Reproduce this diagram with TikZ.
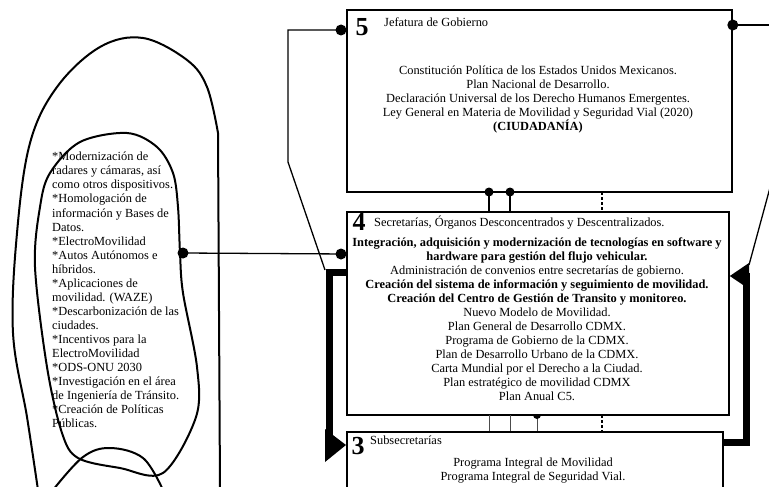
\documentclass[tikz,border=0pt]{standalone}
\usepackage{fontspec}
\setmainfont{Liberation Serif}
\usetikzlibrary{calc}
\tikzset{
  box/.style={draw, line width=1.8pt, inner sep=0pt, anchor=north west},
  txt/.style={font=\fontsize{12.4}{14}\selectfont, inner sep=0pt, align=center},
  lbl/.style={font=\fontsize{12.4}{13}\selectfont, inner sep=0pt, anchor=west},
  num/.style={font=\bfseries\fontsize{26}{26}\selectfont, inner sep=0pt},
  thin/.style={line width=1.3pt},
  heavy/.style={line width=7pt},
  loop/.style={line width=2pt},
  dotc/.style={fill=black, circle, inner sep=0pt, minimum size=#1},
}
\begin{document}
\begin{tikzpicture}[x=1pt, y=-1pt]
\useasboundingbox (0,0) rectangle (769,487);
\clip (0,0) rectangle (769,487);

% boxes
\node[box, minimum width=385pt, minimum height=182pt] (b5) at (346,9) {};
\node[box, minimum width=382pt, minimum height=203pt] (b4) at (346,211) {};
\node[box, minimum width=376pt, minimum height=120pt] (b3) at (346,431) {};

% numbers and labels
\node[num] (n5) at (362,27) {5};
\node[num] (n4) at (359,222) {4};
\node[num] (n3) at (358,446) {3};
\node[lbl] (l5) at (384,22) {Jefatura de Gobierno};
\node[lbl] (l4) at (374,223) {Secretarías, Órganos Desconcentrados y Descentralizados.};
\node[lbl] (l3) at (370,440) {Subsecretarías};

% box 5 text
\node[txt] (t5) at (538,100) {Constitución Política de los Estados Unidos Mexicanos.\\
Plan Nacional de Desarrollo.\\
Declaración Universal de los Derecho Humanos Emergentes.\\
Ley General en Materia de Movilidad y Seguridad Vial (2020)\\
\textbf{(CIUDADANÍA)}};

% box 4 text
\node[txt] (t4) at (537,319) {\textbf{Integración, adquisición y modernización de tecnologías en software y}\\
\textbf{hardware para gestión del flujo vehicular.}\\
Administración de convenios entre secretarías de gobierno.\\
\textbf{Creación del sistema de información y seguimiento de movilidad.}\\
\textbf{Creación del Centro de Gestión de Transito y monitoreo.}\\
Nuevo Modelo de Movilidad.\\
Plan General de Desarrollo CDMX.\\
Programa de Gobierno de la CDMX.\\
Plan de Desarrollo Urbano de la CDMX.\\
Carta Mundial por el Derecho a la Ciudad.\\
Plan estratégico de movilidad CDMX\\
Plan Anual C5.};

% box 3 text
\node[txt] (t3) at (533,471) {Programa Integral de Movilidad\\
Programa Integral de Seguridad Vial.};

% left loops
\draw[loop] plot[smooth, tension=0.6] coordinates {(38,490) (27,417) (13,333) (17,233) (30,143) (57,87) (100,47) (143,38) (187,60) (207,87) (218,133)} -- (220,490);
\draw[loop] plot[smooth cycle, tension=0.55] coordinates {(127,133) (157,147) (173,173) (178,207) (180,253) (183,293) (197,367) (196,417) (163,473) (120,468) (78,458) (62,433) (47,367) (35,267) (40,207) (50,173) (80,142)};
\draw[loop] plot[smooth, tension=0.6] coordinates {(53,490) (83,457) (110,448) (143,458) (163,490)};

% list text
\node[font=\fontsize{12.4}{14.05}\selectfont, inner sep=0pt, align=left, anchor=north west] (lst) at (52,152) {*Modernización de\\
radares y cámaras, así\\
como otros dispositivos.\\
*Homologación de\\
información y Bases de\\
Datos.\\
*ElectroMovilidad\\
*Autos Autónomos e\\
híbridos.\\
*Aplicaciones de\\
movilidad. (WAZE)\\
*Descarbonización de las\\
ciudades.\\
*Incentivos para la\\
ElectroMovilidad\\
*ODS-ONU 2030\\
*Investigación en el área\\
de Ingeniería de Tránsito.\\
*Creación de Políticas\\
Públicas.};

% connector: list to box 4
\coordinate (ld) at (183,253);
\coordinate (b4l) at (b4.west |- 0,254);
\draw[thin] (ld) -- (b4l);
\node[dotc=11pt] at (ld) {};
\node[dotc=11pt] at ($(b4l)+(-5,0)$) {};

% connector: box 5 left to thick line
\coordinate (b5l) at (b5.west |- 0,30);
\coordinate (k1) at (288,30);
\coordinate (k2) at (288,162);
\coordinate (k3) at (325,270);
\draw[thin] (b5l) -- (k1) -- (k2) -- (k3);
\node[dotc=11pt] at ($(b5l)+(-5,0)$) {};

% thick line left: box 4 to box 3
\coordinate (b4k) at (b4.west |- 0,272);
\coordinate (b3k) at (b3.west |- 0,445);
\draw[heavy] (b4k) -- (329,272) -- (329,445) -- ($(b3k)+(-10,0)$);
\fill (325,429) -- (325,462) -- (b3k) -- cycle;

% connector: box 5 right
\coordinate (b5r) at (b5.east |- 0,25);
\coordinate (er) at (775,25);
\draw[thin] (b5r) -- (er);
\node[dotc=11pt] at (b5r) {};

% thick line right: box 3 to box 4
\coordinate (b3r) at (b3.east |- 0,442);
\coordinate (b4r) at (b4.east |- 0,276);
\draw[heavy] (b3r) -- (746,442) -- (746,276) -- ($(b4r)+(10,0)$);
\fill (749,263) -- (749,289) -- (b4r) -- cycle;
\coordinate (er2) at (771,184);
\draw[thin] (er2) -- (749,265);

% vertical links between boxes 5 and 4
\foreach \x/\n in {489/a,510/b}{
  \coordinate (u\n) at (\x,192);
  \draw[thin] (u\n) -- (\x,211);
  \node[dotc=9pt] at (u\n) {};
}
\draw[thin, dash pattern=on 3pt off 2pt] (602,192) -- (602,211);

% vertical links between boxes 4 and 3
\draw[line width=0.9pt, black!70] (489,415) -- (489,431);
\draw[line width=0.9pt, black!70] (510,415) -- (510,431);
\draw[line width=0.9pt, black!70] (537,415) -- (537,431);
\fill (533,415) arc[start angle=180, end angle=360, radius=4pt] -- cycle;
\draw[thin, dash pattern=on 3pt off 2pt] (602,415) -- (602,431);
\end{tikzpicture}
\end{document}
